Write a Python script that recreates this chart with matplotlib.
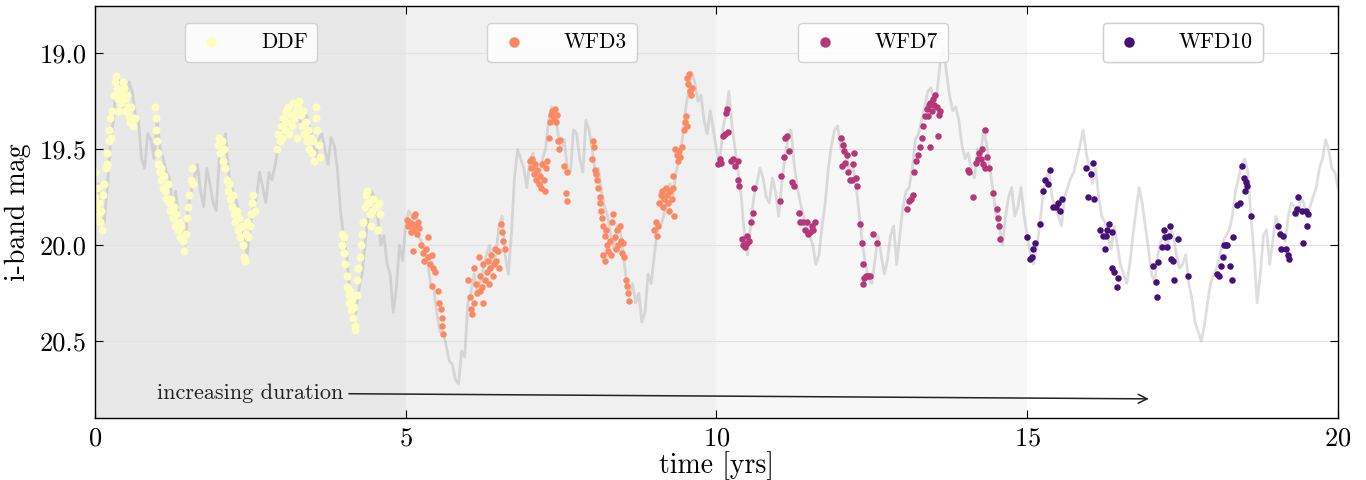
import numpy as np
import matplotlib
matplotlib.use("Agg")
import matplotlib.pyplot as plt

plt.rcParams['font.family'] = 'serif'
plt.rcParams['font.serif'] = ['cmr10', 'DejaVu Serif']
plt.rcParams['mathtext.fontset'] = 'cm'
plt.rcParams['axes.formatter.use_mathtext'] = True

# underlying light curve: values at t = 0.0, 0.1, ..., 20.0
gray_mag_a = [19.72, 19.85, 19.70, 19.35, 19.15, 19.25, 19.20, 19.35, 19.60, 19.45,
              19.35, 19.55, 19.65, 19.72, 19.97, 19.80, 19.65, 19.72, 19.60, 19.78,
              19.55, 19.42, 19.70, 19.80, 19.95, 19.90, 19.75, 19.70, 19.62, 19.58,
              19.35, 19.40, 19.30, 19.35, 19.32, 19.45, 19.45, 19.50, 19.44, 19.60,
              19.95, 20.25, 20.35, 20.15, 19.85, 19.75, 20.00, 20.10, 20.35, 20.00,
              19.90, 19.85, 19.95, 20.05, 20.20, 20.35, 20.45, 20.60, 20.70, 20.55,
              20.30, 20.15, 20.20, 20.05, 20.10, 19.90, 20.05, 19.95, 19.50, 19.60,
              19.55, 19.65, 19.55, 19.35, 19.30, 19.50, 19.60, 19.40, 19.55, 19.35,
              19.50, 19.60, 19.80, 19.95, 19.90, 20.05, 20.25, 20.30, 20.40, 20.15,
              20.05, 19.90, 19.75, 19.75, 19.55, 19.30, 19.10, 19.25, 19.35, 19.30,
              19.50, 19.40, 19.20, 19.50, 19.75, 20.05, 19.75, 19.60, 19.75, 19.65,
              19.85, 19.55, 19.40, 19.70, 19.85, 19.95, 20.10, 19.90, 19.60, 19.40,
              19.50, 19.55, 19.60, 19.85, 20.10, 20.20, 19.95, 20.15, 19.95, 20.10,
              19.80, 19.70, 19.45, 19.35, 19.20, 19.25, 19.05, 19.10, 19.30, 19.35,
              19.55, 19.60, 19.50, 19.40, 19.60, 19.85, 20.00, 19.75, 19.85, 19.70,
              19.95, 20.10, 19.90, 19.65, 19.75, 19.85, 19.75, 19.65, 19.55, 19.40,
              19.60, 19.60, 19.85, 19.95, 19.90, 20.10, 20.20, 19.95, 19.70, 19.90,
              20.15, 20.05, 19.95, 19.90, 20.05, 20.10, 20.20, 20.40, 20.50, 20.30,
              20.15, 20.05, 19.95, 19.85, 19.65, 19.55, 19.85, 20.30, 19.95, 20.10,
              19.85, 19.95, 19.85, 19.80, 19.75, 19.85, 19.75, 19.60, 19.45, 19.60,
              19.70]
# values at t = 0.05, 0.15, ..., 19.95
gray_mag_b = [19.68, 19.88, 19.45, 19.12, 19.28, 19.15, 19.32, 19.55, 19.42, 19.55,
              19.50, 19.62, 19.80, 19.88, 20.00, 19.72, 19.58, 19.80, 19.68, 19.82,
              19.50, 19.62, 19.74, 19.92, 20.05, 19.80, 19.62, 19.78, 19.66, 19.48,
              19.44, 19.33, 19.28, 19.40, 19.38, 19.56, 19.42, 19.58, 19.48, 19.82,
              20.05, 20.40, 20.22, 19.98, 19.72, 19.85, 19.95, 20.15, 20.22, 20.08,
              19.82, 19.92, 19.98, 20.08, 20.22, 20.45, 20.52, 20.62, 20.72, 20.58,
              20.25, 20.25, 20.12, 20.00, 20.05, 19.85, 20.15, 19.65, 19.55, 19.70,
              19.52, 19.68, 19.50, 19.28, 19.42, 19.45, 19.62, 19.42, 19.62, 19.40,
              19.62, 19.72, 19.85, 20.02, 19.92, 20.18, 20.20, 20.25, 20.35, 20.20,
              19.92, 19.85, 19.68, 19.62, 19.45, 19.20, 19.15, 19.22, 19.42, 19.40,
              19.58, 19.32, 19.38, 19.62, 19.95, 19.90, 19.68, 19.65, 19.78, 19.72,
              19.68, 19.45, 19.58, 19.78, 19.90, 20.00, 20.05, 19.78, 19.48, 19.38,
              19.45, 19.62, 19.70, 20.00, 20.18, 20.08, 20.05, 20.08, 19.90, 19.95,
              19.72, 19.60, 19.42, 19.28, 19.18, 19.20, 18.97, 19.22, 19.28, 19.48,
              19.52, 19.65, 19.52, 19.48, 19.72, 19.90, 19.85, 19.70, 19.80, 19.85,
              20.05, 20.02, 19.75, 19.62, 19.80, 19.90, 19.70, 19.62, 19.48, 19.52,
              19.68, 19.75, 19.88, 20.02, 20.00, 20.15, 20.10, 19.82, 19.78, 20.02,
              20.20, 19.98, 20.02, 19.95, 20.12, 20.05, 20.28, 20.45, 20.42, 20.20,
              20.12, 19.98, 19.92, 19.72, 19.58, 19.62, 20.05, 20.15, 19.92, 19.98,
              19.90, 19.98, 19.78, 19.85, 19.78, 19.80, 19.70, 19.55, 19.50, 19.62]
gray_t_a = np.linspace(0, 20, len(gray_mag_a))
gray_t_b = gray_t_a[:-1] + 0.05

ddf_t = [0.00, 0.00, 0.02, 0.03, 0.05, 0.06, 0.08, 0.10, 0.11, 0.13, 0.15, 0.17, 0.19, 0.20,
         0.22, 0.23, 0.25, 0.26, 0.28, 0.30, 0.32, 0.34, 0.36, 0.37, 0.39, 0.40, 0.42, 0.44,
         0.45, 0.47, 0.49, 0.50, 0.52, 0.53, 0.55, 0.57, 0.58, 0.62, 0.64,
         0.97, 0.98, 0.99, 1.00, 1.01, 1.02, 1.04, 1.06, 1.07, 1.09, 1.11, 1.13, 1.15, 1.17,
         1.19, 1.21, 1.23, 1.25, 1.27, 1.29, 1.31, 1.33, 1.35, 1.37, 1.39, 1.42, 1.44, 1.46,
         1.48, 1.50, 1.52, 1.54, 1.56, 1.58,
         1.98, 2.00, 2.02, 2.04, 2.06, 2.08, 2.10, 2.12, 2.14, 2.16, 2.18, 2.20, 2.22, 2.24,
         2.26, 2.28, 2.30, 2.32, 2.34, 2.36, 2.38, 2.40, 2.41, 2.43, 2.45, 2.47, 2.49, 2.51,
         2.53, 2.55, 2.57,
         2.93, 2.95, 2.97, 2.99, 3.01, 3.03, 3.05, 3.07, 3.09, 3.11, 3.13, 3.15, 3.17, 3.19,
         3.21, 3.23, 3.25, 3.27, 3.29, 3.31, 3.33, 3.35, 3.37, 3.39, 3.41, 3.43, 3.45, 3.47,
         3.49, 3.51, 3.53, 3.55, 3.56, 3.58, 3.60, 3.62,
         3.97, 3.98, 4.00, 4.01, 4.03, 4.05, 4.06, 4.08, 4.09, 4.11, 4.12, 4.14, 4.15, 4.17,
         4.18, 4.19, 4.21, 4.22, 4.24, 4.26, 4.28, 4.30, 4.32, 4.34, 4.36, 4.38, 4.40, 4.42,
         4.44, 4.46, 4.48, 4.52, 4.55, 4.57, 4.59]
ddf_mag = [19.62, 19.75, 19.80, 19.70, 19.85, 19.78, 19.88, 19.82, 19.92, 19.74, 19.68, 19.60, 19.52, 19.58,
           19.46, 19.40, 19.34, 19.44, 19.30, 19.22, 19.15, 19.12, 19.18, 19.24, 19.30, 19.20, 19.26, 19.22,
           19.15, 19.18, 19.24, 19.30, 19.22, 19.28, 19.33, 19.36, 19.28, 19.38, 19.34,
           19.28, 19.34, 19.40, 19.46, 19.52, 19.58, 19.62, 19.66, 19.60, 19.70, 19.64, 19.72, 19.76, 19.68,
           19.78, 19.82, 19.76, 19.86, 19.80, 19.90, 19.84, 19.92, 19.88, 19.96, 19.90, 19.98, 20.03, 19.94,
           19.86, 19.80, 19.74, 19.66, 19.60, 19.68,
           19.48, 19.44, 19.52, 19.46, 19.56, 19.50, 19.60, 19.66, 19.72, 19.68, 19.76, 19.80, 19.74, 19.84,
           19.88, 19.82, 19.92, 19.86, 19.96, 19.90, 20.00, 20.06, 20.08, 19.94, 19.88, 19.96, 19.90, 19.84,
           19.78, 19.74, 19.82,
           19.50, 19.42, 19.46, 19.38, 19.44, 19.34, 19.40, 19.30, 19.36, 19.28, 19.42, 19.32, 19.38, 19.26,
           19.34, 19.30, 19.44, 19.28, 19.25, 19.32, 19.38, 19.30, 19.42, 19.36, 19.46, 19.40, 19.50, 19.44,
           19.52, 19.46, 19.56, 19.34, 19.28, 19.40, 19.48, 19.54,
           19.94, 20.00, 19.96, 20.04, 20.10, 20.16, 20.22, 20.26, 20.30, 20.24, 20.34, 20.28, 20.38, 20.32,
           20.42, 20.44, 20.26, 20.18, 20.12, 20.06, 20.00, 19.94, 19.88, 19.80, 19.74, 19.72, 19.78, 19.84,
           19.90, 19.82, 19.76, 19.80, 19.92, 19.78, 19.84]

wfd3_t = [5.02, 5.04, 5.06, 5.08, 5.10, 5.12, 5.14, 5.15, 5.16, 5.18, 5.20, 5.22, 5.12, 5.36,
          5.25, 5.28, 5.30, 5.33, 5.36, 5.39, 5.42, 5.44, 5.47, 5.42, 5.52,
          5.54, 5.56, 5.58, 5.59, 5.60,
          6.00, 6.03, 6.05, 6.07, 6.10, 6.10, 6.13, 6.15, 6.18, 6.20, 6.22, 6.25, 6.27, 6.30,
          6.32, 6.34, 6.36, 6.38, 6.40, 6.42, 6.44, 6.46, 6.48, 6.50, 6.20, 6.25,
          6.53, 6.55, 6.57, 6.59,
          7.00, 7.02, 7.04, 7.06, 7.08, 7.10, 7.12, 7.14, 7.16, 7.18, 7.20, 7.22, 7.24, 7.26, 7.28,
          7.30, 7.32, 7.34, 7.36, 7.38, 7.40, 7.42, 7.44, 7.45, 7.47, 7.49,
          7.55, 7.60, 7.58, 7.59,
          8.02, 8.03, 8.00, 8.04, 8.06, 8.08, 8.10, 8.12,
          8.12, 8.14, 8.16, 8.18, 8.20, 8.22, 8.24, 8.26, 8.28, 8.30, 8.32, 8.34, 8.36, 8.38,
          8.40, 8.42, 8.44, 8.46, 8.48, 8.50, 8.52, 8.18, 8.20,
          8.54, 8.56, 8.58, 8.60,
          9.00, 9.02, 9.04, 9.06,
          9.08, 9.10, 9.12, 9.14, 9.16, 9.18, 9.20, 9.22, 9.24, 9.26, 9.28, 9.30, 9.32, 9.30,
          9.34, 9.36, 9.38, 9.40, 9.42, 9.44,
          9.47, 9.49, 9.51, 9.52,
          9.53, 9.55, 9.56, 9.58, 9.59, 9.60]
wfd3_mag = [19.87, 19.90, 19.88, 19.93, 19.89, 19.92, 19.85, 19.84, 19.90, 19.94, 19.88, 19.91, 20.03, 19.96,
            20.00, 20.04, 20.08, 20.02, 20.06, 20.10, 20.05, 20.12, 20.14, 20.21, 20.24,
            20.30, 20.33, 20.38, 20.42, 20.46,
            20.18, 20.27, 20.33, 20.36, 20.30, 20.12, 20.20, 20.25, 20.06, 20.16, 20.22, 20.10, 20.18, 20.14,
            20.08, 20.20, 20.12, 20.05, 20.16, 20.10, 20.02, 20.08, 20.03, 20.12, 20.24, 20.30,
            19.89, 19.93, 19.98, 20.02,
            19.56, 19.60, 19.55, 19.63, 19.58, 19.66, 19.61, 19.68, 19.64, 19.70, 19.58, 19.66, 19.72, 19.60, 19.56,
            19.44, 19.36, 19.32, 19.30, 19.34, 19.29, 19.36, 19.32, 19.46, 19.50, 19.45,
            19.59, 19.62, 19.73, 19.77,
            19.46, 19.49, 19.55, 19.61, 19.63, 19.66, 19.70, 19.75,
            19.78, 19.82, 19.86, 19.90, 19.95, 19.92, 20.00, 20.03, 19.98, 20.05, 19.88, 19.84, 19.96, 20.02,
            19.92, 20.00, 19.90, 19.98, 20.04, 19.99, 20.06, 20.05, 20.08,
            20.18, 20.21, 20.25, 20.29,
            19.92, 19.88, 19.95, 19.90,
            19.78, 19.74, 19.72, 19.80, 19.76, 19.70, 19.74, 19.78, 19.82, 19.72, 19.76, 19.70, 19.85, 19.64,
            19.50, 19.53, 19.56, 19.51, 19.54, 19.49,
            19.40, 19.36, 19.33, 19.38,
            19.13, 19.16, 19.11, 19.20, 19.22, 19.18]

wfd7_t = [10.03, 10.05, 10.07, 10.15, 10.17, 10.10, 10.13, 10.19,
          10.23, 10.27, 10.30, 10.34, 10.34, 10.37,
          10.41, 10.43, 10.46, 10.49, 10.49, 10.53, 10.55, 10.58, 10.60,
          11.02, 11.04, 11.08, 11.11, 11.14, 11.16, 11.21, 11.25,
          11.32, 11.35, 11.39, 11.42, 11.45, 11.48, 11.51, 11.53, 11.56, 11.58,
          12.01, 12.03, 12.05, 12.02, 12.07, 12.10, 12.12, 12.15, 12.18, 12.20, 12.22, 12.24, 12.26,
          12.31, 12.34, 12.35, 12.38, 12.41, 12.44, 12.47, 12.36, 12.52, 12.58,
          13.07, 13.10, 13.13, 13.16, 13.18, 13.21, 13.24,
          13.28, 13.30, 13.33, 13.36, 13.38, 13.40, 13.42, 13.44, 13.46, 13.48, 13.50, 13.52,
          13.55, 13.58, 13.59, 13.44, 13.57,
          14.04, 14.07, 14.13, 14.17, 14.20, 14.23, 14.26, 14.29, 14.32, 14.36, 14.38, 14.28, 14.32,
          14.45, 14.51, 14.53, 14.56, 14.54]
wfd7_mag = [19.58, 19.55, 19.57, 19.31, 19.29, 19.43, 19.42, 19.41,
            19.56, 19.55, 19.59, 19.56, 19.66, 19.69,
            19.97, 20.00, 20.01, 19.99, 19.95, 19.98, 19.88, 19.83, 19.70,
            19.77, 19.64, 19.54, 19.44, 19.43, 19.51, 19.67, 19.69,
            19.83, 19.88, 19.88, 19.92, 19.88, 19.94, 19.93, 19.90, 19.92, 19.88,
            19.44, 19.48, 19.51, 19.59, 19.57, 19.53, 19.62, 19.66, 19.66, 19.58, 19.52, 19.65, 19.69,
            19.89, 19.99, 20.10, 20.17, 20.16, 20.16, 20.16, 20.20, 19.94, 19.99,
            19.81, 19.77, 19.76, 19.74, 19.62, 19.56, 19.53,
            19.49, 19.44, 19.38, 19.33, 19.29, 19.33, 19.27, 19.26, 19.30, 19.24, 19.27, 19.22,
            19.28, 19.32, 19.30, 19.49, 19.43,
            19.61, 19.62, 19.75, 19.57, 19.55, 19.52, 19.55, 19.58, 19.60, 19.54, 19.60, 19.50, 19.40,
            19.73, 19.81, 19.86, 19.97, 19.90]

wfd10_t = [15.00, 15.04, 15.07, 15.10, 15.13, 15.20,
           15.26, 15.29, 15.33, 15.36,
           15.42, 15.46, 15.49, 15.53, 15.56,
           15.95, 16.03, 16.06, 15.98, 16.08,
           16.17, 16.22, 16.26, 16.29, 16.32, 16.25, 16.36,
           16.36, 16.39, 16.46, 16.44,
           17.03, 17.07, 17.08, 17.11,
           17.17, 17.20, 17.22, 17.25, 17.28, 17.30, 17.32, 17.34, 17.36, 17.42, 17.59,
           18.05, 18.08, 18.12, 18.15, 18.17, 18.20, 18.22, 18.27, 18.29, 18.31,
           18.38, 18.42, 18.46, 18.49, 18.52, 18.53, 18.51, 18.60,
           19.04, 19.06, 19.12, 19.08, 19.16, 19.19, 19.21,
           19.31, 19.34, 19.35, 19.48, 19.42, 19.50, 19.51, 19.44]
wfd10_mag = [19.96, 20.07, 20.06, 20.02, 19.99, 19.89,
             19.72, 19.66, 19.68, 19.61,
             19.80, 19.80, 19.78, 19.82, 19.76,
             19.60, 19.63, 19.57, 19.75, 19.76,
             19.92, 19.95, 19.95, 19.92, 19.89, 20.02, 19.93,
             20.12, 20.14, 20.17, 20.22,
             20.11, 20.19, 20.27, 20.09,
             20.01, 19.92, 19.96, 20.01, 19.95, 19.90, 20.07, 20.08, 20.18, 19.97, 20.16,
             20.15, 20.16, 20.11, 20.06, 20.00, 20.00, 20.00, 20.11, 20.18, 19.96,
             19.79, 19.78, 19.59, 19.65, 19.67, 19.69, 19.72, 19.85,
             19.90, 19.94, 19.95, 20.02, 20.02, 20.05, 20.07,
             19.83, 19.81, 19.75, 19.82, 19.82, 19.90, 19.84, 19.99]

labels = ['DDF', 'WFD3', 'WFD7', 'WFD10']
colors = ['#fcfdbf', '#fc8961', '#b5367a', '#461078']
shades = ['#e8e8e8', '#f0f0f0', '#f7f7f7', '#ffffff']
edges = [0, 5, 10, 15, 20]

fig = plt.figure(figsize=(13.66, 4.8), dpi=100)
ax = fig.add_axes([0.0695, 0.129, 0.91, 0.8585])

for i in range(4):
    ax.axvspan(edges[i], edges[i + 1], color=shades[i], zorder=0, lw=0)

ax.set_axisbelow(True)
ax.grid(axis='y', color='#e2e2e2', lw=0.8, zorder=0.5)

# merge the two sample sets into one time-ordered curve
gray_t = np.concatenate([gray_t_a, gray_t_b])
gray_mag = np.concatenate([gray_mag_a, gray_mag_b])
order = np.argsort(gray_t)
ax.plot(gray_t[order], gray_mag[order], color='#a9a9a9', alpha=0.38, lw=2.0, zorder=1)

series = [(ddf_t, ddf_mag), (wfd3_t, wfd3_mag), (wfd7_t, wfd7_mag), (wfd10_t, wfd10_mag)]
sizes = [34, 22, 22, 22]
handles = []
for (t, m), c, lab, s in zip(series, colors, labels, sizes):
    h = ax.scatter(t, m, s=s, color=c, lw=0, zorder=2, label=lab)
    handles.append(h)

centers = [0.1255, 0.3757, 0.626, 0.875]
for i, h in enumerate(handles):
    leg = ax.legend([h], [labels[i]], loc='upper center', bbox_to_anchor=(centers[i], 0.985),
                    fontsize=15.5, markerscale=1.6 if i else 1.3, handletextpad=1.5,
                    handlelength=1.6, borderpad=0.45, framealpha=0.85,
                    edgecolor='#cccccc', fancybox=True)
    leg.set_zorder(5)
    ax.add_artist(leg)

ax.annotate('increasing duration', xy=(17, 20.8), xytext=(1.0, 20.77),
            ha='left', va='center', fontsize=16, color='#222222',
            arrowprops=dict(arrowstyle='->', color='#222222', lw=1.1))

ax.set_xlim(0, 20)
ax.set_ylim(20.9, 18.755)
ax.set_xticks([0, 5, 10, 15, 20])
ax.set_yticks([19.0, 19.5, 20.0, 20.5])
ax.set_yticklabels(['19.0', '19.5', '20.0', '20.5'])
ax.tick_params(direction='in', top=True, right=True, length=6, labelsize=19, pad=6)
ax.set_xlabel('time [yrs]', fontsize=20, labelpad=1)
ax.set_ylabel('i-band mag', fontsize=20, labelpad=6)
for sp in ax.spines.values():
    sp.set_linewidth(1.0)

fig.savefig('out.png', dpi=100)
